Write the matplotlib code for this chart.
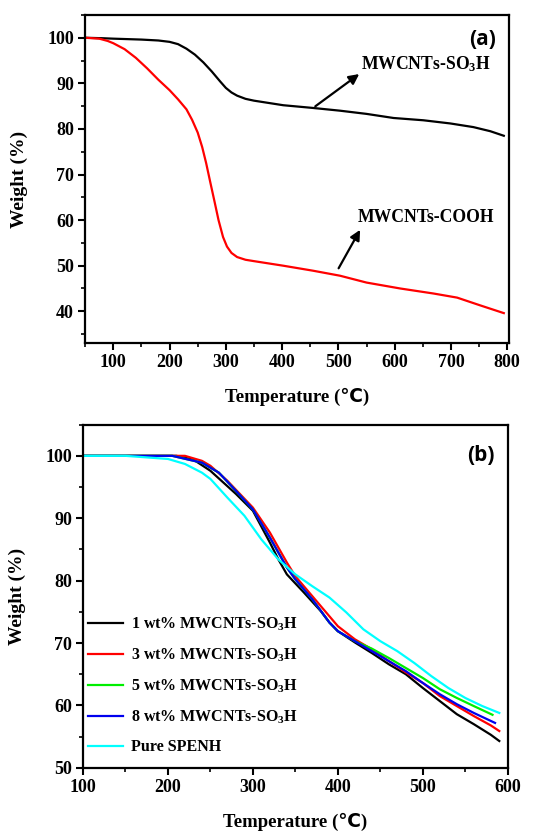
import numpy as np
import matplotlib
matplotlib.use('Agg')
import matplotlib.pyplot as plt
from matplotlib.ticker import MultipleLocator

plt.rcParams['font.family'] = ['Liberation Serif', 'DejaVu Sans']
plt.rcParams['font.weight'] = 'bold'
plt.rcParams['mathtext.fontset'] = 'custom'
plt.rcParams['mathtext.rm'] = 'Liberation Serif:bold'
plt.rcParams['mathtext.it'] = 'Liberation Serif:bold'
plt.rcParams['mathtext.bf'] = 'Liberation Serif:bold'

# ---- panel (a) data ----
a_so3h_T = [50, 80, 100, 150, 180, 200, 215, 230, 245, 260, 275, 290, 300, 310, 320, 335, 350,
            402, 455, 503, 550, 598, 651, 699, 740, 770, 794]
a_so3h_W = [100, 99.9, 99.8, 99.6, 99.4, 99.1, 98.6, 97.6, 96.3, 94.6, 92.6, 90.4, 89.0, 88.0, 87.3, 86.6, 86.2,
            85.2, 84.6, 84.0, 83.3, 82.4, 81.9, 81.2, 80.4, 79.5, 78.5]
a_cooh_T = [50, 75, 90, 100, 120, 140, 160, 180, 200, 215, 230, 240, 250, 258, 265, 272, 280, 287, 295,
            302, 310, 320, 335, 350, 402, 455, 503, 550, 610, 669, 711, 752, 794]
a_cooh_W = [100, 99.8, 99.3, 98.8, 97.5, 95.6, 93.3, 90.8, 88.5, 86.5, 84.3, 82.0, 79.2, 76.0, 72.5, 68.5, 64.0, 60.0, 56.3,
            54.2, 52.8, 51.9, 51.3, 51.0, 50.0, 48.9, 47.8, 46.3, 45.0, 43.9, 43.0, 41.3, 39.6]

# ---- panel (b) data ----
b_labels = ['1 wt% MWCNTs-SO$_3$H', '3 wt% MWCNTs-SO$_3$H', '5 wt% MWCNTs-SO$_3$H',
            '8 wt% MWCNTs-SO$_3$H', 'Pure SPENH']
b_colors = ['#000000', '#ff0000', '#00ee00', '#0000ee', '#00ffff']
b1_T = [100, 210, 230, 250, 280, 300, 320, 330, 340, 360, 380, 390, 400, 420, 440, 460, 480, 500, 520, 540, 560, 580, 590]
b1_W = [100, 100, 99.4, 97.6, 93.9, 91.2, 86.1, 83.4, 81.0, 78.1, 75.1, 73.3, 71.9, 70.1, 68.4, 66.6, 65.0, 62.8, 60.7, 58.6, 57.0, 55.3, 54.3]
b3_T = [100, 220, 240, 250, 270, 300, 320, 340, 350, 370, 390, 400, 420, 440, 460, 480, 500, 520, 540, 560, 580, 590]
b3_W = [100, 100, 99.2, 98.4, 96.0, 91.7, 87.7, 82.9, 80.7, 77.5, 74.3, 72.7, 70.6, 69.0, 67.1, 65.3, 63.6, 61.5, 59.9, 58.3, 56.8, 55.9]
b5_T = [100, 205, 240, 260, 280, 300, 320, 340, 350, 370, 390, 400, 420, 440, 460, 480, 500, 520, 540, 560, 582]
b5_W = [100, 100, 98.9, 97.3, 94.4, 91.4, 86.9, 82.1, 80.2, 77.0, 73.3, 71.9, 70.3, 69.1, 67.6, 66.0, 64.4, 62.6, 61.2, 59.9, 58.5]
b8_T = [100, 205, 240, 260, 280, 300, 320, 340, 350, 370, 390, 400, 420, 440, 460, 480, 500, 520, 540, 560, 585]
b8_W = [100, 100, 98.9, 97.3, 94.4, 91.4, 86.9, 82.1, 80.2, 77.0, 73.3, 71.9, 70.3, 68.7, 67.1, 65.5, 63.6, 61.8, 60.2, 58.8, 57.2]
bp_T = [100, 150, 180, 200, 220, 240, 250, 270, 290, 310, 330, 350, 370, 390, 410, 430, 450, 470, 490, 510, 530, 550, 570, 590]
bp_W = [100, 100, 99.7, 99.5, 98.7, 97.3, 96.3, 93.3, 90.4, 86.6, 83.4, 81.0, 79.1, 77.3, 74.9, 72.2, 70.3, 68.7, 66.8, 64.7, 62.8, 61.2, 59.9, 58.8]
b_series = [(b1_T, b1_W), (b3_T, b3_W), (b5_T, b5_W), (b8_T, b8_W), (bp_T, bp_W)]


def style_axes(ax):
    for s in ax.spines.values():
        s.set_linewidth(1.6)
    ax.tick_params(which='major', direction='out', length=5, width=1.5, labelsize=13, pad=3)
    ax.tick_params(which='minor', direction='out', length=3, width=1.2)
    for lab in ax.get_xticklabels() + ax.get_yticklabels():
        lab.set_fontweight('bold')
    ax.set_xlabel('Temperature (℃)', fontsize=13.5, fontweight='bold', labelpad=12)
    ax.set_ylabel('Weight (%)', fontsize=14, fontweight='bold', labelpad=14)


fig = plt.figure(figsize=(5.46, 8.31), dpi=100)
ax1 = fig.add_axes([0.156, 0.587, 0.776, 0.395])
ax2 = fig.add_axes([0.152, 0.076, 0.778, 0.413])

# panel (a)
ax1.plot(a_so3h_T, a_so3h_W, color='black', lw=1.6)
ax1.plot(a_cooh_T, a_cooh_W, color='#ff0000', lw=1.6)
ax1.set_xlim(50, 803)
ax1.set_ylim(33, 105)
ax1.xaxis.set_major_locator(MultipleLocator(100))
ax1.xaxis.set_minor_locator(MultipleLocator(50))
ax1.yaxis.set_major_locator(MultipleLocator(10))
ax1.yaxis.set_minor_locator(MultipleLocator(5))
style_axes(ax1)
ax1.annotate('', xy=(541, 92.4), xytext=(455, 84.6),
             arrowprops=dict(arrowstyle='-|>', color='black', lw=1.6, mutation_scale=15))
ax1.text(541, 94.2, 'MWCNTs-SO$_3$H', fontsize=12.7, fontweight='bold', va='center', ha='left')
ax1.annotate('', xy=(541, 58.4), xytext=(498, 48.9),
             arrowprops=dict(arrowstyle='-|>', color='black', lw=1.6, mutation_scale=15))
ax1.text(535, 60.6, 'MWCNTs-COOH', fontsize=12.7, fontweight='bold', va='center', ha='left')
ax1.text(0.97, 0.925, '(a)', transform=ax1.transAxes, fontsize=15, fontweight='bold',
         family=['Open Sans', 'DejaVu Sans'], ha='right', va='center')

# panel (b)
for (T, W), c, lab in zip(b_series, b_colors, b_labels):
    ax2.plot(T, W, color=c, lw=1.6, label=lab)
ax2.set_xlim(100, 600)
ax2.set_ylim(50, 105)
ax2.xaxis.set_major_locator(MultipleLocator(100))
ax2.xaxis.set_minor_locator(MultipleLocator(50))
ax2.yaxis.set_major_locator(MultipleLocator(10))
ax2.yaxis.set_minor_locator(MultipleLocator(5))
style_axes(ax2)
ax2.text(0.97, 0.91, '(b)', transform=ax2.transAxes, fontsize=15, fontweight='bold',
         family=['Open Sans', 'DejaVu Sans'], ha='right', va='center')
leg = ax2.legend(loc='lower left', bbox_to_anchor=(-0.022, -0.005), frameon=False,
                 prop={'weight': 'bold', 'size': 11.5}, handlelength=2.2,
                 labelspacing=0.85, handletextpad=0.5)

fig.savefig('out.png', dpi=100)
